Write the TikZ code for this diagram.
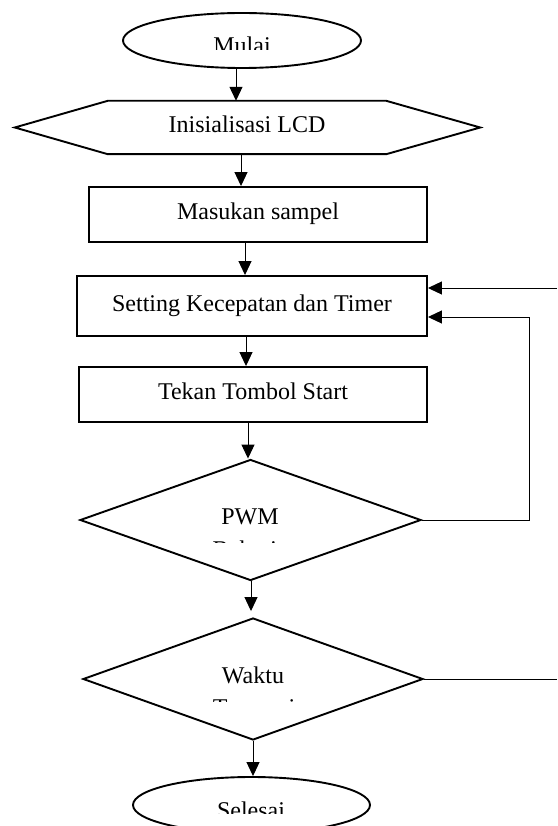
\documentclass[tikz,border=0pt]{standalone}
\usepackage{fontspec}
\setmainfont{Liberation Serif}
\usetikzlibrary{shapes.geometric,arrows.meta,calc}
\begin{document}
\begin{tikzpicture}[x=1pt,y=-1pt,
  txt/.style={font=\fontsize{24}{29}\selectfont, inner sep=0pt},
  boxtxt/.style={txt, text height=16.8pt, text depth=6pt},
  outline/.style={draw=black, line width=1.9pt},
  termbox/.style={outline, ellipse, minimum width=238pt, minimum height=55pt, inner sep=0pt},
  procbox/.style={outline, rectangle, boxtxt},
  decbox/.style={outline, diamond, inner sep=0pt},
  conn/.style={draw=black, line width=1pt},
  arr/.style={conn, -{Triangle[length=14pt,width=13pt]}}
]
\useasboundingbox (0,0) rectangle (557,826);
\clip (0,0) rectangle (557,826);

% terminals
\node[termbox] (mulai) at (242,40.5) {};
\begin{scope}
  \clip (100,0) rectangle (400,50);
  \node[txt, anchor=base] (mulait) at (242,54) {Mulai};
\end{scope}

% hexagon
\node[boxtxt, minimum width=278pt, minimum height=53pt] (hex) at (247,127.5) {Inisialisasi LCD};
\draw[outline, line join=miter] (hex.north west) -- (hex.north east) -- ($(hex.east)+(94,0)$)
  -- (hex.south east) -- (hex.south west) -- ($(hex.west)+(-93,0)$) -- cycle;

% process boxes
\node[procbox, minimum width=338pt, minimum height=55pt] (mas) at (258,214.5) {Masukan sampel};
\node[procbox, minimum width=350pt, minimum height=60pt] (set) at (252,306) {Setting Kecepatan dan Timer};
\node[procbox, minimum width=348pt, minimum height=55pt] (tek) at (253,394.5) {Tekan Tombol Start};

% decisions
\node[decbox, minimum width=341pt, minimum height=121pt] (pwm) at (250.5,520) {};
\node[txt, anchor=base] (pwmt) at (250,524) {PWM};
\begin{scope}
  \clip (150,530) rectangle (350,542.5);
  \node[txt, anchor=base] (pwmt2) at (250,557) {Bekerja};
\end{scope}

\node[decbox, minimum width=340pt, minimum height=122pt] (wak) at (253,679) {};
\node[txt, anchor=base] (wakt) at (253,683) {Waktu};
\begin{scope}
  \clip (150,690) rectangle (350,701);
  \node[txt, anchor=base] (wakt2) at (254,715) {Tercapai};
\end{scope}

\node[termbox, minimum width=237pt, minimum height=56pt] (sel) at (251.5,805) {};
\begin{scope}
  \clip (100,760) rectangle (400,813);
  \node[txt, anchor=base] (selt) at (251,818) {Selesai};
\end{scope}

% vertical connectors
\coordinate (a1) at ($(mulai.south)+(-6,0)$);
\draw[arr] (a1) -- (a1 |- hex.north);
\coordinate (a2) at ($(hex.south)+(-6,0)$);
\draw[arr] (a2) -- (a2 |- mas.north);
\coordinate (a3) at ($(mas.south)+(-13,0)$);
\draw[arr] (a3) -- (a3 |- set.north);
\coordinate (a4) at ($(set.south)+(-6,0)$);
\draw[arr] (a4) -- (a4 |- tek.north);
\coordinate (a5) at ($(tek.south)+(-5,0)$);
\draw[arr] (a5) -- (a5 |- pwm.north);
\coordinate (a6) at ($(pwm.south)+(0.5,0)$);
\draw[arr, shorten >=6pt] (a6) -- (a6 |- wak.north);
\coordinate (a7) at (wak.south);
\draw[arr] (a7) -- (a7 |- sel.north);

% loop connectors
\coordinate (s1) at ($(set.east)+(0,-18)$);
\coordinate (s2) at ($(set.east)+(0,11)$);
\coordinate (edge1) at (557,288);
\coordinate (lp) at (529,0);
\coordinate (edge2) at (557,679);
\draw[arr] (edge1) -- (s1);
\draw[arr] (pwm.east) -- (pwm.east -| lp) -- (lp |- s2) -- (s2);
\draw[conn] (wak.east) -- (edge2);
\end{tikzpicture}
\end{document}
